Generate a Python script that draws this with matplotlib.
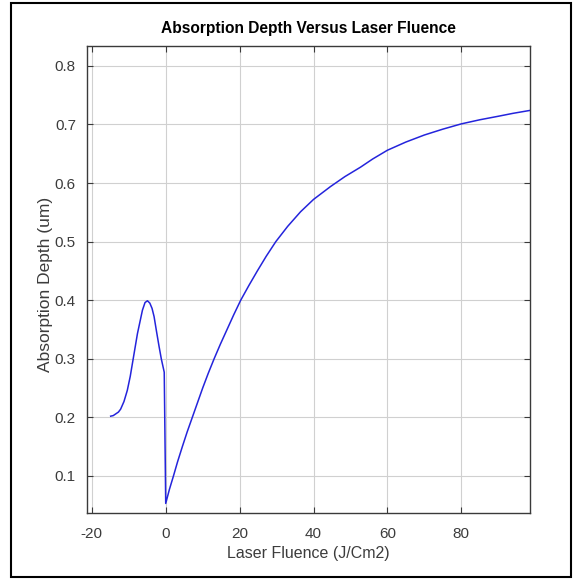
import matplotlib
matplotlib.use("Agg")
import matplotlib.pyplot as plt
from matplotlib.patches import Rectangle

plt.rcParams['font.family'] = ['Liberation Sans', 'DejaVu Sans']
plt.rcParams['axes.unicode_minus'] = False

# fluence (J/Cm2) and absorption depth (um)
fluence = [-14.9, -14.2, -13.5, -12.8, -12.2, -11.3, -10.4, -9.6, -8.8, -7.65, -6.3,
           -5.6, -4.95, -4.3, -3.7, -3.15, -2.5, -1.8, -1.2, -0.4,
           0.0, 1.0, 2.1, 3.2, 4.5, 5.8, 7.2, 8.6, 10.0, 11.5, 13.1, 14.8, 16.6,
           18.4, 20.3, 22.5, 24.8, 27.2, 29.8, 33.0, 36.5, 40.0, 44.6, 48.5,
           52.7, 56.0, 60.0, 65.0, 70.0, 75.0, 80.0, 85.0, 90.0, 94.0, 98.6]
depth = [0.202, 0.203, 0.206, 0.209, 0.214, 0.227, 0.246, 0.270, 0.300, 0.343, 0.383,
         0.396, 0.399, 0.395, 0.386, 0.372, 0.347, 0.321, 0.300, 0.277,
         0.053, 0.077, 0.100, 0.124, 0.150, 0.175, 0.200, 0.225, 0.250, 0.275,
         0.300, 0.325, 0.350, 0.375, 0.400, 0.425, 0.450, 0.475, 0.500, 0.526,
         0.551, 0.572, 0.594, 0.611, 0.627, 0.641, 0.656, 0.670, 0.682, 0.692,
         0.701, 0.708, 0.714, 0.719, 0.724]

xticks = [-20, 0, 20, 40, 60, 80]
yticks = [0.1, 0.2, 0.3, 0.4, 0.5, 0.6, 0.7, 0.8]

fig = plt.figure(figsize=(5.74, 5.79), dpi=100)
ax = fig.add_axes([0.1516, 0.114, 0.7718, 0.8066])

axcol = '#3a3a3a'
txtcol = '#3c3c3c'
ax.plot(fluence, depth, color='#2424dc', linewidth=1.1)

ax.set_xlim(-21.3, 98.6)
ax.set_ylim(0.0367, 0.834)
ax.set_xticks(xticks)
ax.set_yticks(yticks)
ax.set_xticklabels([str(v) for v in xticks])
ax.set_yticklabels([f"{v:.1f}" for v in yticks])
ax.grid(True, color='#d0d0d0', linewidth=0.8)
ax.set_axisbelow(True)

ax.tick_params(direction='in', top=True, right=True, length=4, width=0.8,
               colors=axcol, labelcolor=txtcol, labelsize=11)
ax.tick_params(axis='x', pad=10)
ax.tick_params(axis='y', pad=8)
for s in ax.spines.values():
    s.set_color(axcol)
    s.set_linewidth(1.0)

ax.set_title("Absorption Depth Versus Laser Fluence", fontsize=11.2,
             fontweight='bold', pad=9)
ax.set_xlabel("Laser Fluence (J/Cm2)", fontsize=11.5, color=txtcol)
ax.set_ylabel("Absorption Depth (um)", fontsize=12.5, color=txtcol)
ax.xaxis.set_label_coords(0.5, -0.07)
ax.yaxis.set_label_coords(-0.076, 0.49)

# frame round the whole picture
fig.patches.append(Rectangle((11 / 574, 2 / 579), 560 / 574, 574 / 579,
                             transform=fig.transFigure, fill=False,
                             edgecolor='black', linewidth=1.5))

fig.savefig("out.png", dpi=100)
